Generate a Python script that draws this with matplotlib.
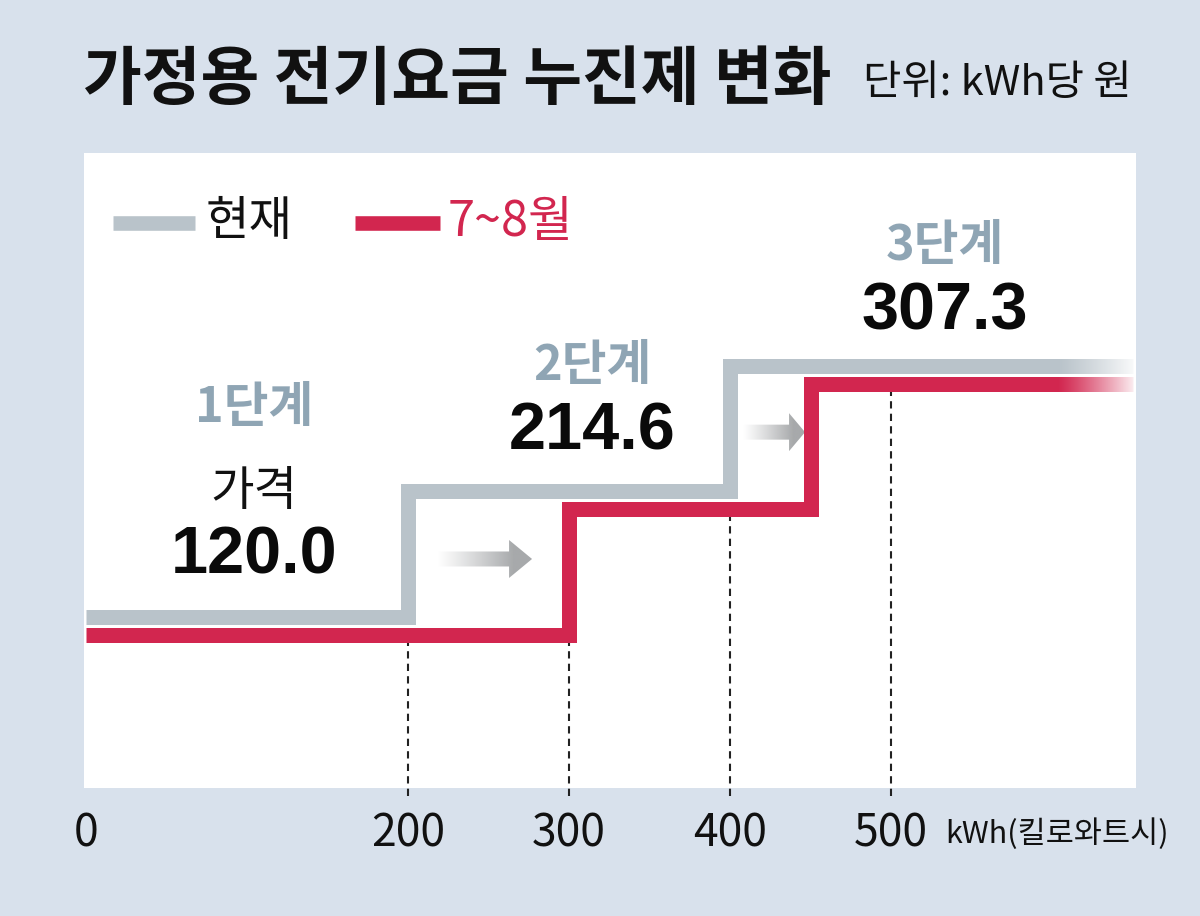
import numpy as np
import matplotlib.pyplot as plt
from matplotlib import transforms
from matplotlib.patches import Polygon

plt.rcParams['font.family'] = ['Noto Sans CJK KR', 'DejaVu Sans']

# 데이터 (단위: kWh당 원)
stage_names = ['1단계', '2단계', '3단계']
prices = [120.0, 214.6, 307.3]
now_edges = [0, 200, 400, 650]       # 현재 구간 경계
summer_edges = [0, 300, 450, 650]    # 7~8월 구간 경계
tick_vals = [0, 200, 300, 400, 500]
guide_vals = [200, 300, 400, 500]

BG = '#d8e1ec'
GRAY = '#b9c3ca'
RED = '#d2264f'
STAGE = '#8fa5b4'
ARROW = '#a7a9ab'

W, H = 1200, 916
fig = plt.figure(figsize=(W / 100, H / 100), dpi=100, facecolor=BG)
ax = fig.add_axes([84 / W, 1 - 788 / H, (1136 - 84) / W, (788 - 153) / H])
ax.set_xlim(-1.2, 652)
ax.set_ylim(-7.4, 466.5)
for s in ax.spines.values():
    s.set_visible(False)
ax.set_yticks([])


def px(x, y):
    return x / W, 1 - y / H


# 계단 선
y_now = prices + [prices[-1]]
ax.plot(now_edges, y_now, drawstyle='steps-post', color=GRAY, lw=10.8,
        solid_joinstyle='miter', solid_capstyle='butt', zorder=3)
red_tr = transforms.offset_copy(ax.transData, fig=fig, x=0, y=-18, units='dots')
ax.plot(summer_edges, y_now, drawstyle='steps-post', color=RED, lw=10.8,
        solid_joinstyle='miter', solid_capstyle='butt', zorder=4, transform=red_tr)

# 점선 보조선
for g in guide_vals:
    i = np.searchsorted(summer_edges, g, side='left') - 1
    ax.vlines(g, 0, prices[i], transform=red_tr, colors='#222222',
              linestyles=(0, (3.5, 2.5)), lw=1.5, zorder=2, clip_on=False)

# 오른쪽 끝 흐려짐
ramp = np.linspace(0, 1, 200) ** 1.2 * 0.95
fade = np.ones((2, 200, 4))
fade[..., 3] = ramp
ax.imshow(fade, extent=(603, 652, 283, 320), aspect='auto', zorder=5,
          interpolation='bilinear')

# 그라데이션 화살표
p0 = ax.transData.transform((0, 0))
p1 = ax.transData.transform((100, 100))
sx = 100 / (p1[0] - p0[0])
sy = 100 / (p1[1] - p0[1])


def grad_arrow(x0, x1, yc, head_len):
    xh = x1 - head_len * sx
    sh, hh = 7.5 * sy, 19 * sy
    verts = [(x0, yc - sh), (xh, yc - sh), (xh, yc - hh), (x1, yc),
             (xh, yc + hh), (xh, yc + sh), (x0, yc + sh)]
    poly = Polygon(verts, closed=True, facecolor='none', edgecolor='none')
    ax.add_patch(poly)
    rgb = np.array(plt.matplotlib.colors.to_rgb(ARROW))
    t = np.linspace(0, 1, 200)
    img = np.zeros((2, 200, 4))
    img[..., :3] = rgb
    img[..., 3] = np.clip(t / 0.8, 0, 1) ** 1.1
    im = ax.imshow(img, extent=(x0, x1, yc - hh, yc + hh), aspect='auto',
                   zorder=2.5, interpolation='bilinear')
    im.set_clip_path(poly)


grad_arrow(now_edges[1] + 18, summer_edges[1] - 23,
           prices[0] + 0.46 * (prices[1] - prices[0]), 23)
grad_arrow(now_edges[2] + 8, summer_edges[2] - 3.5,
           prices[1] + 0.47 * (prices[2] - prices[1]), 16)

ax.set_xlim(-1.2, 652)
ax.set_ylim(-7.4, 466.5)

# 눈금
ax.set_xticks(tick_vals)
ax.set_xticklabels([str(v) for v in tick_vals], fontsize=32)
ax.tick_params(axis='x', length=0, pad=16, colors='#111111')
fig.text(*px(945, 834), 'kWh(킬로와트시)', fontsize=22, ha='left', va='center',
         color='#111111')

# 제목
fig.text(*px(83, 80), '가정용 전기요금 누진제 변화', fontsize=46, fontweight='bold',
         ha='left', va='center', color='#111111')
fig.text(*px(1132, 84), '단위: kWh당 원', fontsize=30, ha='right', va='center',
         color='#111111')

# 범례
fig.add_artist(plt.Line2D([113 / W, 195 / W], [1 - 223 / H] * 2, color=GRAY,
                          lw=10.5, solid_capstyle='butt'))
fig.text(*px(206, 222), '현재', fontsize=34, ha='left', va='center', color='#111111')
fig.add_artist(plt.Line2D([355 / W, 440 / W], [1 - 223 / H] * 2, color=RED,
                          lw=10.5, solid_capstyle='butt'))
fig.text(*px(448, 222), '7~8월', fontsize=35, fontweight='medium', ha='left',
         va='center', color=RED)

# 단계별 라벨
stage_pos = [(254, 408, 492, 557), (592, 365, None, 432), (945, 245, None, 313)]
for name, price, (cx, ys, yg, yp) in zip(stage_names, prices, stage_pos):
    fig.text(*px(cx, ys), name, fontsize=35, fontweight='bold', color=STAGE,
             ha='center', va='center')
    if yg is not None:
        fig.text(*px(cx, yg), '가격', fontsize=34, color='#111111',
                 ha='center', va='center')
    fig.text(*px(cx, yp), f'{price:.1f}', fontsize=48, fontweight='bold',
             family=['Liberation Sans', 'DejaVu Sans'], color='#0a0a0a',
             ha='center', va='center')

fig.savefig('out.png', dpi=100, facecolor=BG)
